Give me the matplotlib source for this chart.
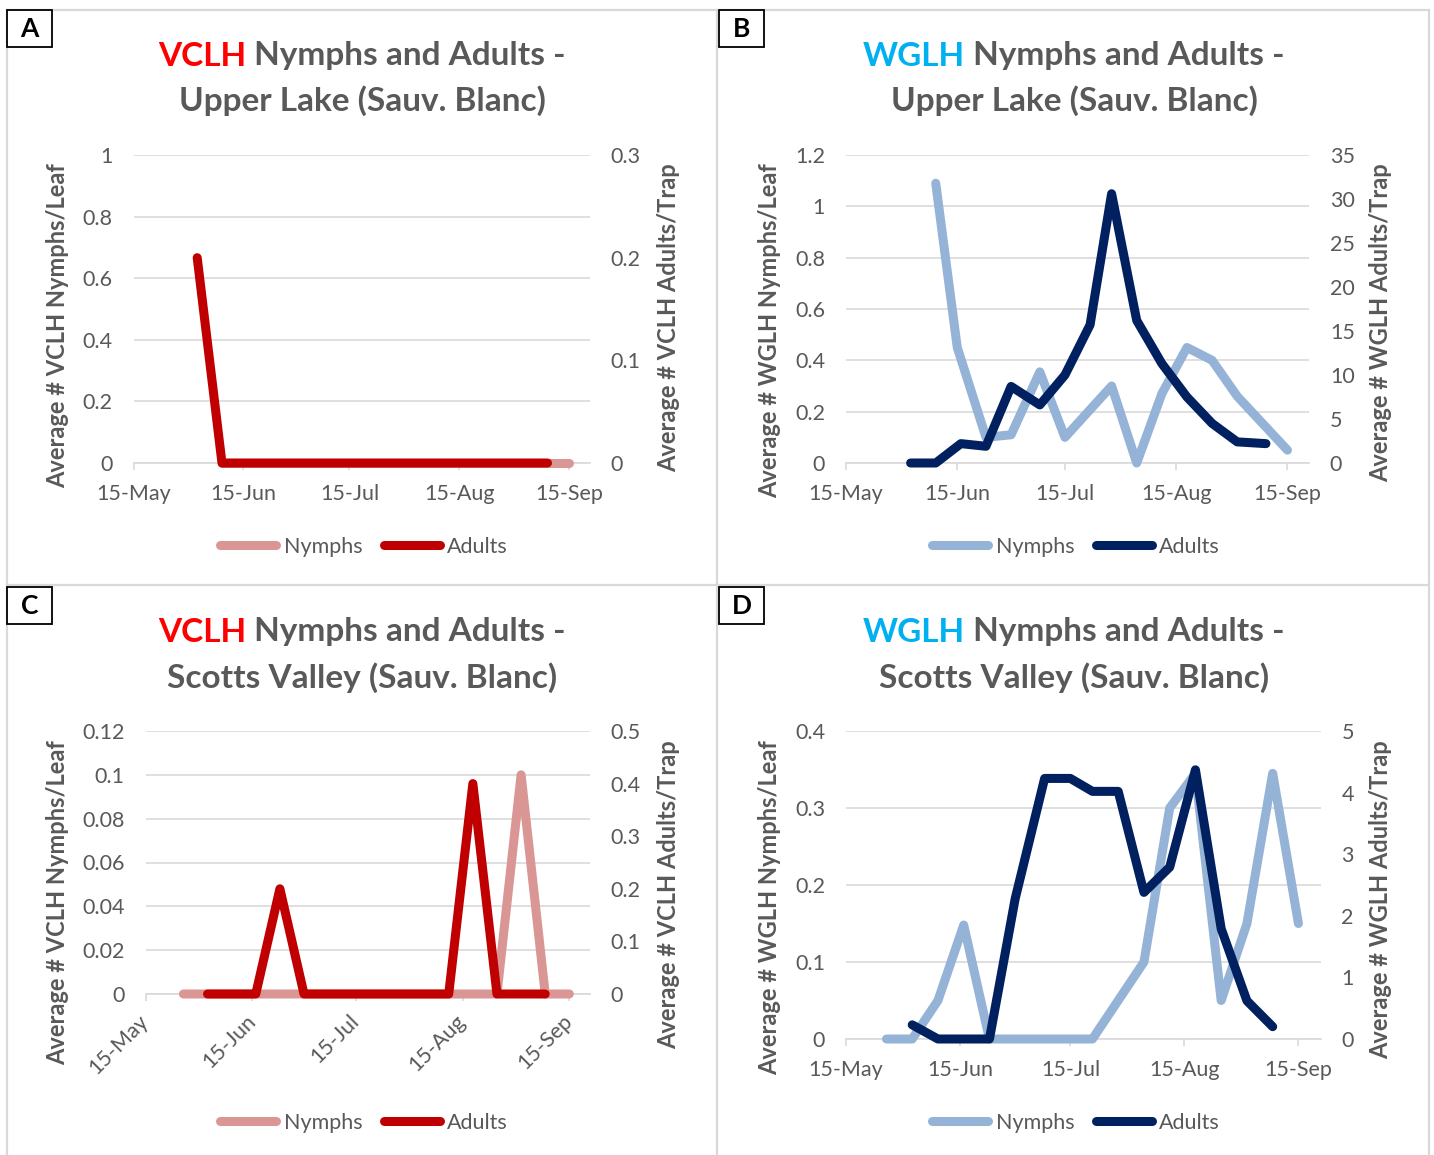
import matplotlib
matplotlib.use('Agg')
import matplotlib.pyplot as plt
import matplotlib.dates as mdates
from matplotlib.lines import Line2D
from matplotlib.patches import Rectangle
from matplotlib.ticker import FixedLocator, FuncFormatter
import numpy as np

plt.rcParams['font.family'] = ['Lato', 'DejaVu Sans']

YEAR = 2019

# ---------------- data ----------------
# Panel A: VCLH Upper Lake
a_nymph_dates = ['06-09', '06-16', '06-23', '06-30', '07-07', '07-14', '07-21', '07-28',
                 '08-04', '08-11', '08-18', '08-25', '09-01', '09-08', '09-15']
a_nymph_vals = [0, 0, 0, 0, 0, 0, 0, 0, 0, 0, 0, 0, 0, 0, 0]
a_adult_dates = ['06-02', '06-09', '06-16', '06-23', '06-30', '07-07', '07-14', '07-21',
                 '07-28', '08-04', '08-11', '08-18', '08-25', '09-01', '09-09']
a_adult_vals = [0.2, 0, 0, 0, 0, 0, 0, 0, 0, 0, 0, 0, 0, 0, 0]

# Panel B: WGLH Upper Lake
b_nymph_dates = ['06-09', '06-15', '06-23', '06-30', '07-08', '07-15', '07-28', '08-04',
                 '08-11', '08-18', '08-25', '09-01', '09-15']
b_nymph_vals = [1.09, 0.45, 0.10, 0.11, 0.355, 0.10, 0.30, 0.0, 0.27, 0.45, 0.40, 0.26, 0.05]
b_adult_dates = ['06-02', '06-09', '06-16', '06-23', '06-30', '07-08', '07-15', '07-22',
                 '07-28', '08-04', '08-11', '08-18', '08-25', '09-01', '09-09']
b_adult_vals = [0, 0, 2.2, 1.9, 8.7, 6.6, 10.0, 15.7, 30.6, 16.2, 11.3, 7.5, 4.5, 2.4, 2.2]

# Panel C: VCLH Scotts Valley
c_nymph_dates = ['05-26', '06-02', '06-09', '06-16', '06-23', '06-30', '07-07', '07-14', '07-21',
                 '07-28', '08-04', '08-11', '08-18', '08-25', '09-01', '09-08', '09-15']
c_nymph_vals = [0, 0, 0, 0, 0, 0, 0, 0, 0, 0, 0, 0, 0, 0, 0.10, 0, 0]
c_adult_dates = ['06-02', '06-09', '06-16', '06-23', '06-30', '07-07', '07-14', '07-21',
                 '07-28', '08-04', '08-11', '08-18', '08-25', '09-01', '09-08']
c_adult_vals = [0, 0, 0, 0.2, 0, 0, 0, 0, 0, 0, 0, 0.4, 0, 0, 0]

# Panel D: WGLH Scotts Valley
d_nymph_dates = ['05-26', '06-02', '06-09', '06-16', '06-23', '06-30', '07-07', '07-14',
                 '07-21', '08-04', '08-11', '08-18', '08-25', '09-01', '09-08', '09-15']
d_nymph_vals = [0, 0, 0.05, 0.148, 0, 0, 0, 0, 0, 0.10, 0.30, 0.345, 0.05, 0.15, 0.345, 0.15]
d_adult_dates = ['06-02', '06-09', '06-16', '06-23', '06-30', '07-08', '07-15', '07-21',
                 '07-28', '08-04', '08-11', '08-18', '08-25', '09-01', '09-08']
d_adult_vals = [0.23, 0, 0, 0, 2.28, 4.23, 4.23, 4.02, 4.02, 2.38, 2.79, 4.37, 1.79, 0.62, 0.2]

x_tick_dates = ['05-15', '06-15', '07-15', '08-15', '09-15']
x_range = ['05-15', '09-21']

panel_letters = ['A', 'B', 'C', 'D']
species = ['VCLH', 'WGLH', 'VCLH', 'WGLH']
sites = ['Upper Lake (Sauv. Blanc)', 'Upper Lake (Sauv. Blanc)',
         'Scotts Valley (Sauv. Blanc)', 'Scotts Valley (Sauv. Blanc)']
left_ticks = [[0, 0.2, 0.4, 0.6, 0.8, 1.0],
              [0, 0.2, 0.4, 0.6, 0.8, 1.0, 1.2],
              [0, 0.02, 0.04, 0.06, 0.08, 0.10, 0.12],
              [0, 0.1, 0.2, 0.3, 0.4]]
right_ticks = [[0, 0.1, 0.2, 0.3],
               [0, 5, 10, 15, 20, 25, 30, 35],
               [0, 0.1, 0.2, 0.3, 0.4, 0.5],
               [0, 1, 2, 3, 4, 5]]
series_names = ['Nymphs', 'Adults']

# ---------------- style ----------------
W, H = 1434, 1155
GRAY = '#595959'
GRID = '#D9D9D9'
sp_color = {'VCLH': '#FF0000', 'WGLH': '#00B0F0'}
line_colors = {'VCLH': ('#DA9694', '#C00000'), 'WGLH': ('#95B3D7', '#002060')}
LW = 6.5
TICK_FS = 15.5
LABEL_FS = 17
TITLE_FS = 24

# plot-area pixel boxes (left, top, right, bottom)
boxes = [(133.5, 155, 590, 463),
         (846, 155, 1309, 463),
         (145.5, 731, 590, 994),
         (846, 731, 1320.5, 1039)]
title_cx = [362, 1074, 362, 1074]
title_y = [(56, 101), (56, 101), (632, 678), (632, 678)]
legend_pos = [(364, 547), (1076, 547), (364, 1123), (1076, 1123)]
left_label_x = [58, 770, 58, 770]
right_label_x = [669, 1381, 669, 1381]
label_top = [163, 163, 740, 740]
letter_boxes = [(7, 10), (719, 10), (7, 587), (719, 587)]

data = [(a_nymph_dates, a_nymph_vals, a_adult_dates, a_adult_vals),
        (b_nymph_dates, b_nymph_vals, b_adult_dates, b_adult_vals),
        (c_nymph_dates, c_nymph_vals, c_adult_dates, c_adult_vals),
        (d_nymph_dates, d_nymph_vals, d_adult_dates, d_adult_vals)]


def dt(lst):
    return np.array([np.datetime64(f'{YEAR}-{s}') for s in lst])


def fx(x):
    return x / W


def fy(y):
    return 1 - y / H


fig = plt.figure(figsize=(W / 100, H / 100), dpi=100)
fig.patch.set_facecolor('white')
renderer = fig.canvas.get_renderer()

fmt = FuncFormatter(lambda v, p: '%g' % round(v, 6))

for i in range(4):
    l, t, r, b = boxes[i]
    ax = fig.add_axes([fx(l), fy(b), (r - l) / W, (b - t) / H])
    ax2 = ax.twinx()
    nd, nv, ad, av = data[i]
    sp = species[i]
    cn, ca = line_colors[sp]
    ax.plot(dt(nd), nv, color=cn, lw=LW, solid_capstyle='round', solid_joinstyle='round',
            clip_on=False, zorder=3)
    ax2.plot(dt(ad), av, color=ca, lw=LW, solid_capstyle='round', solid_joinstyle='round',
             clip_on=False, zorder=3)
    lt = left_ticks[i]
    rt = right_ticks[i]
    ax.set_ylim(lt[0], lt[-1])
    ax2.set_ylim(rt[0], rt[-1])
    ax.yaxis.set_major_locator(FixedLocator(lt))
    ax2.yaxis.set_major_locator(FixedLocator(rt))
    ax.yaxis.set_major_formatter(fmt)
    ax2.yaxis.set_major_formatter(fmt)
    ax.set_xlim(dt(x_range))
    ax.xaxis.set_major_locator(FixedLocator(mdates.date2num(dt(x_tick_dates))))
    ax.xaxis.set_major_formatter(mdates.DateFormatter('%d-%b'))
    ax.grid(axis='y', color=GRID, lw=1.2)
    ax.set_axisbelow(True)
    for a in (ax, ax2):
        for s in ('top', 'left', 'right', 'bottom'):
            a.spines[s].set_visible(False)
    ax.spines['bottom'].set_visible(True)
    ax.spines['bottom'].set_color(GRID)
    ax.spines['bottom'].set_linewidth(1.2)
    ax.tick_params(axis='y', length=0, pad=15, labelsize=TICK_FS, labelcolor=GRAY)
    ax2.tick_params(axis='y', length=0, pad=15, labelsize=TICK_FS, labelcolor=GRAY)
    ax.tick_params(axis='x', length=5, width=1.2, color=GRID, pad=10, labelsize=TICK_FS,
                   labelcolor=GRAY)
    if i == 2:
        for lab in ax.get_xticklabels():
            lab.set_rotation(45)
            lab.set_ha('right')
            lab.set_va('center')
            lab.set_rotation_mode('anchor')
        ax.tick_params(axis='x', pad=12)

    # axis titles
    fig.text(fx(left_label_x[i]), fy(label_top[i]), f'Average # {sp} Nymphs/Leaf', rotation=90,
             ha='center', va='top', fontsize=LABEL_FS, fontweight='bold', color=GRAY)
    fig.text(fx(right_label_x[i]), fy(label_top[i]), f'Average # {sp} Adults/Trap', rotation=90,
             ha='center', va='top', fontsize=LABEL_FS, fontweight='bold', color=GRAY)

    # two-colour title
    rest = ' Nymphs and Adults -'
    t1 = fig.text(0, 0, sp, fontsize=TITLE_FS, fontweight='bold', color=sp_color[sp],
                  ha='left', va='center')
    t2 = fig.text(0, 0, rest, fontsize=TITLE_FS, fontweight='bold', color=GRAY,
                  ha='left', va='center')
    w1 = t1.get_window_extent(renderer).width
    w2 = t2.get_window_extent(renderer).width
    x0 = title_cx[i] - (w1 + w2) / 2
    t1.set_position((fx(x0), fy(title_y[i][0])))
    t2.set_position((fx(x0 + w1), fy(title_y[i][0])))
    fig.text(fx(title_cx[i]), fy(title_y[i][1]), sites[i], fontsize=TITLE_FS, fontweight='bold',
             color=GRAY, ha='center', va='center')

    # legend
    handles = [Line2D([], [], color=cn, lw=LW, solid_capstyle='round'),
               Line2D([], [], color=ca, lw=LW, solid_capstyle='round')]
    fig.legend(handles, series_names, loc='center',
               bbox_to_anchor=(fx(legend_pos[i][0]), fy(legend_pos[i][1])),
               ncol=2, frameon=False, fontsize=TICK_FS, labelcolor=GRAY,
               handlelength=2.6, handletextpad=0.35, columnspacing=1.0)

    # panel letter box
    bx, by = letter_boxes[i]
    fig.add_artist(Rectangle((fx(bx), fy(by + 37)), 45 / W, 37 / H, transform=fig.transFigure,
                             facecolor='white', edgecolor='black', lw=1.3, zorder=10))
    fig.text(fx(bx + 22.5), fy(by + 19), panel_letters[i], fontsize=19, fontweight='bold',
             color='black', ha='center', va='center', zorder=11)

# panel borders
border_kw = dict(color=GRID, lw=1.6, transform=fig.transFigure, zorder=1)
fig.add_artist(Line2D([fx(7), fx(1429)], [fy(10), fy(10)], **border_kw))
fig.add_artist(Line2D([fx(7), fx(7)], [fy(10), fy(1155)], **border_kw))
fig.add_artist(Line2D([fx(1429), fx(1429)], [fy(10), fy(1155)], **border_kw))
fig.add_artist(Line2D([fx(717), fx(717)], [fy(10), fy(1155)], **border_kw))
fig.add_artist(Line2D([fx(7), fx(1429)], [fy(585), fy(585)], **border_kw))

fig.savefig('out.png', dpi=100, facecolor='white')
